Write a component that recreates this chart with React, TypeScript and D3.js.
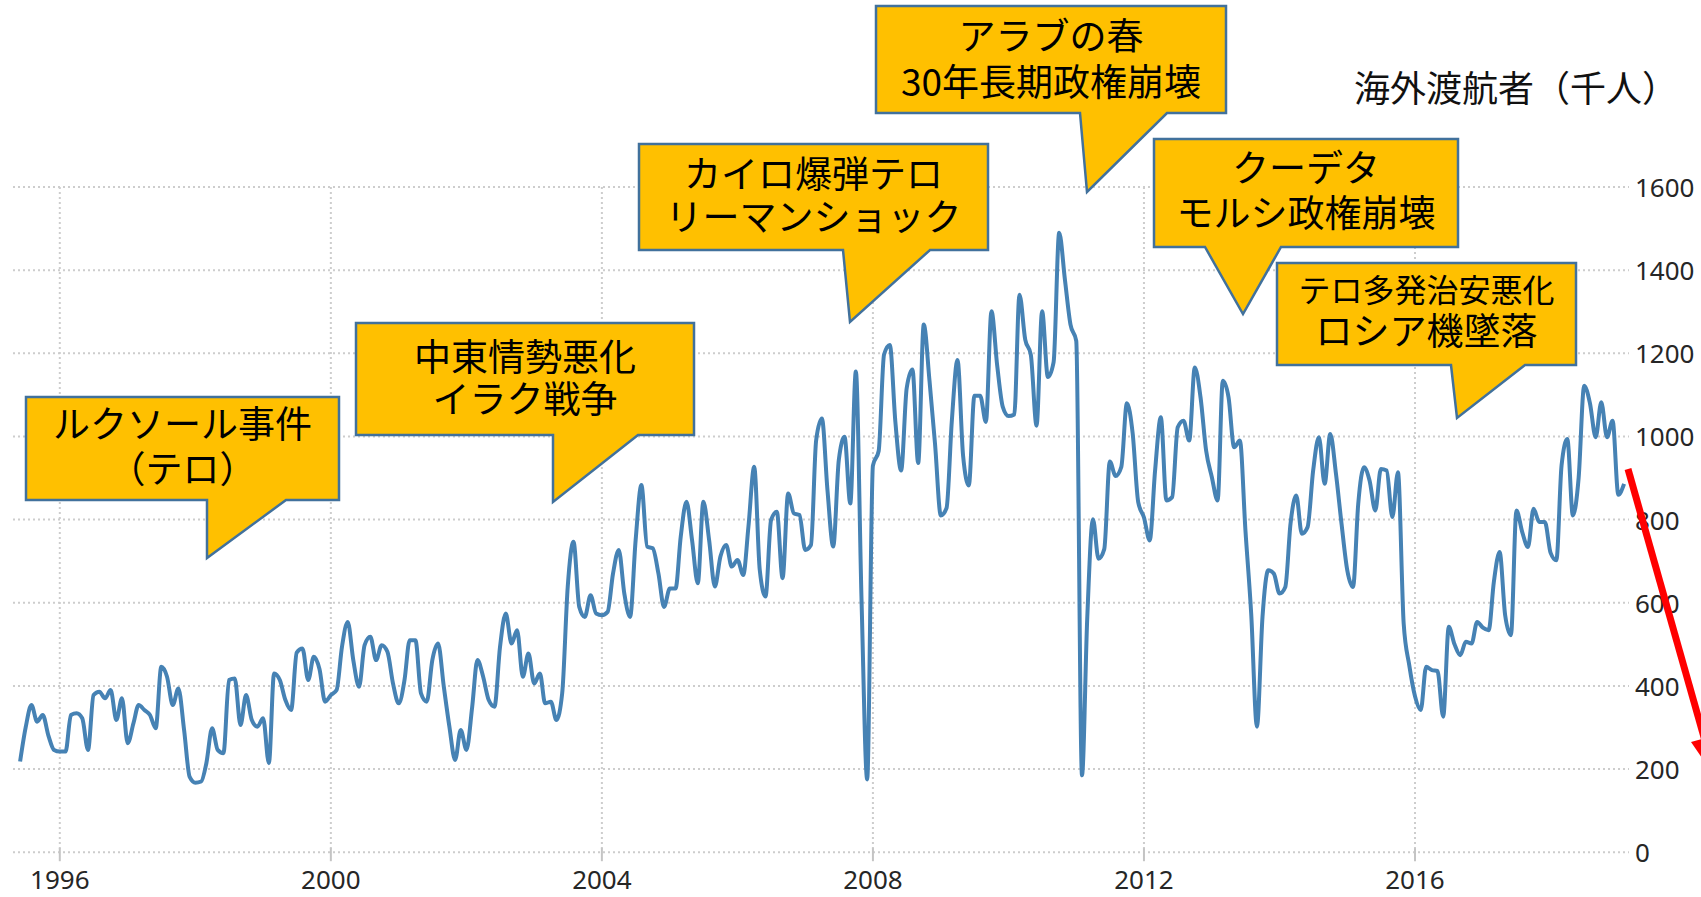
import * as d3 from "d3";
import { useEffect, useRef } from "react";

// Monthly visitor arrivals (thousands), from June 1995 to February 2019.
const arrivals1995to1999 = [
  218, 300, 354, 314, 330, 280, 246, // 1995 Jun-Dec
  242, 242, 330, 334, 322, 246, 378, 386, 370, 390, 318, 370,
  262, 310, 354, 342, 330, 298, 446, 422, 354, 394, 294, 181,
  167, 170, 214, 298, 246, 238, 414, 418, 306, 378, 318, 302,
  322, 214, 430, 414, 366, 342, 480, 490, 414, 470, 440, 362,
];
const arrivals2000to2004 = [
  378, 390, 494, 554, 462, 398, 498, 518, 462, 498, 482, 406,
  358, 414, 510, 510, 382, 362, 462, 502, 398, 302, 222, 294,
  246, 350, 462, 422, 366, 350, 494, 574, 502, 534, 422, 478,
  406, 430, 358, 362, 318, 382, 639, 747, 590, 566, 618, 574,
  570, 578, 670, 727, 622, 566, 751, 883, 735, 731, 670, 590,
];
const arrivals2005to2009 = [
  634, 634, 759, 843, 751, 647, 843, 751, 639, 711, 739, 687,
  703, 667, 783, 927, 679, 615, 799, 819, 659, 863, 815, 811,
  727, 739, 991, 1043, 871, 735, 943, 999, 839, 1156, 600, 175,
  930, 965, 1197, 1220, 1035, 918, 1116, 1161, 936, 1269, 1134, 981,
  810, 828, 1035, 1184, 954, 882, 1098, 1098, 1035, 1301, 1170, 1071,
];
const arrivals2010to2014 = [
  1049, 1053, 1341, 1233, 1197, 1026, 1301, 1143, 1179, 1490, 1377, 1269,
  1230, 185, 560, 801, 706, 729, 940, 905, 927, 1080, 1008, 842,
  805, 750, 918, 1046, 846, 854, 1022, 1038, 990, 1166, 1094, 966,
  902, 846, 1134, 1094, 974, 990, 774, 574, 302, 566, 678, 670,
  622, 638, 790, 858, 766, 782, 918, 998, 886, 1006, 910, 790,
];
const arrivals2015to2019 = [
  678, 638, 838, 926, 894, 822, 922, 918, 806, 914, 550, 450,
  375, 342, 446, 438, 436, 326, 542, 500, 474, 506, 502, 554,
  540, 534, 650, 722, 570, 522, 822, 770, 734, 826, 794, 794,
  720, 702, 930, 994, 810, 900, 1122, 1080, 998, 1082, 998, 1038,
  860, 886, // 2019 Jan-Feb
];

const yTicks = [0, 200, 400, 600, 800, 1000, 1200, 1400, 1600];
const yearTicks = [1996, 2000, 2004, 2008, 2012, 2016];
const title = "海外渡航者（千人）";

const noteTexts = [
  ["ルクソール事件", "（テロ）"],
  ["中東情勢悪化", "イラク戦争"],
  ["カイロ爆弾テロ", "リーマンショック"],
  ["アラブの春", "30年長期政権崩壊"],
  ["クーデタ", "モルシ政権崩壊"],
  ["テロ多発治安悪化", "ロシア機墜落"],
];

// callout geometry (px): box, pointer base on bottom edge, pointer tip, line centres, font sizes
const noteLayout = [
  { x0: 26, y0: 397, x1: 339, y1: 500, b0: 207, b1: 286, tx: 207, ty: 558, ly: [422, 467], fs: [37, 37] },
  { x0: 356, y0: 323, x1: 694, y1: 435, b0: 553, b1: 638, tx: 553, ty: 502, ly: [355, 397], fs: [37, 37] },
  { x0: 639, y0: 144, x1: 988, y1: 250, b0: 843, b1: 930, tx: 850, ty: 322, ly: [172, 215], fs: [37, 37] },
  { x0: 876, y0: 6, x1: 1226, y1: 113, b0: 1080, b1: 1167, tx: 1087, ty: 192, ly: [34, 80], fs: [37, 37] },
  { x0: 1154, y0: 139, x1: 1458, y1: 247, b0: 1205, b1: 1281, tx: 1243, ty: 314, ly: [166, 211], fs: [37, 37] },
  { x0: 1277, y0: 263, x1: 1576, y1: 365, b0: 1451, b1: 1525, tx: 1457, ty: 418, ly: [288, 329], fs: [32, 37] },
];

const width = 1701;
const height = 897;
const plotLeft = 13;
const plotRight = 1629;

function chart() {
  const values = [
    ...arrivals1995to1999,
    ...arrivals2000to2004,
    ...arrivals2005to2009,
    ...arrivals2010to2014,
    ...arrivals2015to2019,
  ];
  const data = values.map((v, i) => ({ date: new Date(1995, 5 + i, 1), value: v }));

  const x = d3.scaleTime()
    .domain([new Date(1996, 0, 1), new Date(2016, 0, 1)])
    .range([59.8, 1415]);
  const y = d3.scaleLinear().domain([0, 1600]).range([852.2, 187]);

  const svg = d3.create("svg")
    .attr("width", width)
    .attr("height", height)
    .attr("viewBox", [0, 0, width, height])
    .attr("style", "position:absolute; left:0; top:0; background:#fff;");

  // grid
  const grid = svg.append("g")
    .attr("stroke", "#cdcdcd")
    .attr("stroke-width", 2)
    .attr("stroke-dasharray", "2,3");
  grid.selectAll("line.h")
    .data(yTicks)
    .join("line")
      .attr("class", "h")
      .attr("x1", plotLeft)
      .attr("x2", plotRight)
      .attr("y1", d => y(d))
      .attr("y2", d => y(d));
  grid.selectAll("line.v")
    .data(yearTicks)
    .join("line")
      .attr("class", "v")
      .attr("x1", d => x(new Date(d, 0, 1)))
      .attr("x2", d => x(new Date(d, 0, 1)))
      .attr("y1", y(1600))
      .attr("y2", y(0));

  // small solid ticks under the zero line
  svg.append("g")
    .attr("stroke", "#c4c4c4")
    .attr("stroke-width", 2)
    .selectAll("line")
    .data(yearTicks)
    .join("line")
      .attr("x1", d => x(new Date(d, 0, 1)))
      .attr("x2", d => x(new Date(d, 0, 1)))
      .attr("y1", y(0) - 4)
      .attr("y2", y(0) + 9);

  // axis labels
  svg.append("g")
    .attr("font-family", "'Noto Sans', 'DejaVu Sans', sans-serif")
    .attr("font-size", 26)
    .attr("fill", "#262626")
    .attr("text-anchor", "middle")
    .selectAll("text")
    .data(yearTicks)
    .join("text")
      .attr("x", d => x(new Date(d, 0, 1)))
      .attr("y", 879)
      .attr("dominant-baseline", "central")
      .text(d => String(d));

  svg.append("g")
    .attr("font-family", "'Noto Sans', 'DejaVu Sans', sans-serif")
    .attr("font-size", 26)
    .attr("fill", "#262626")
    .selectAll("text")
    .data(yTicks)
    .join("text")
      .attr("x", 1635)
      .attr("y", d => y(d))
      .attr("dominant-baseline", "central")
      .text(d => String(d));

  // the series
  const line = d3.line<{ date: Date; value: number }>()
    .x(d => x(d.date))
    .y(d => y(d.value))
    .curve(d3.curveMonotoneX);
  svg.append("path")
    .datum(data)
    .attr("fill", "none")
    .attr("stroke", "#4682b4")
    .attr("stroke-width", 4)
    .attr("stroke-linejoin", "round")
    .attr("d", line);

  // title
  svg.append("text")
    .attr("x", 1354)
    .attr("y", 86)
    .attr("dominant-baseline", "central")
    .attr("font-family", "'Noto Sans CJK JP', sans-serif")
    .attr("font-size", 36)
    .attr("fill", "#111")
    .text(title);

  // callouts
  const notes = svg.append("g");
  noteLayout.forEach((b, i) => {
    const p = d3.path();
    p.moveTo(b.x0, b.y0);
    p.lineTo(b.x1, b.y0);
    p.lineTo(b.x1, b.y1);
    p.lineTo(b.b1, b.y1);
    p.lineTo(b.tx, b.ty);
    p.lineTo(b.b0, b.y1);
    p.lineTo(b.x0, b.y1);
    p.closePath();
    notes.append("path")
      .attr("d", p.toString())
      .attr("fill", "#ffc000")
      .attr("stroke", "#41719c")
      .attr("stroke-width", 2.5)
      .attr("stroke-linejoin", "miter");
    const label = notes.append("text")
      .attr("text-anchor", "middle")
      .attr("font-family", "'Noto Sans CJK JP', sans-serif")
      .attr("fill", "#000");
    noteTexts[i].forEach((t, j) => {
      label.append("tspan")
        .attr("x", (b.x0 + b.x1) / 2)
        .attr("y", b.ly[j])
        .attr("dominant-baseline", "central")
        .attr("font-size", b.fs[j])
        .text(t);
    });
  });

  // red downward arrow at the right edge
  svg.append("line")
    .attr("x1", 1628)
    .attr("y1", 469)
    .attr("x2", 1709)
    .attr("y2", 755)
    .attr("stroke", "#ff0000")
    .attr("stroke-width", 7);
  svg.append("path")
    .attr("d", "M1691,742 L1723,733 L1716,778 Z")
    .attr("fill", "#ff0000");

  return svg.node();
}

function App() {
  const divRef = useRef<HTMLDivElement | null>(null);
  useEffect(() => {
    const el = divRef.current;
    if (!el) return;
    const node = chart();
    if (node) el.appendChild(node);
    return () => {
      if (node && node.parentNode === el) el.removeChild(node);
    };
  }, []);
  return <div ref={divRef} />;
}

export default App;
